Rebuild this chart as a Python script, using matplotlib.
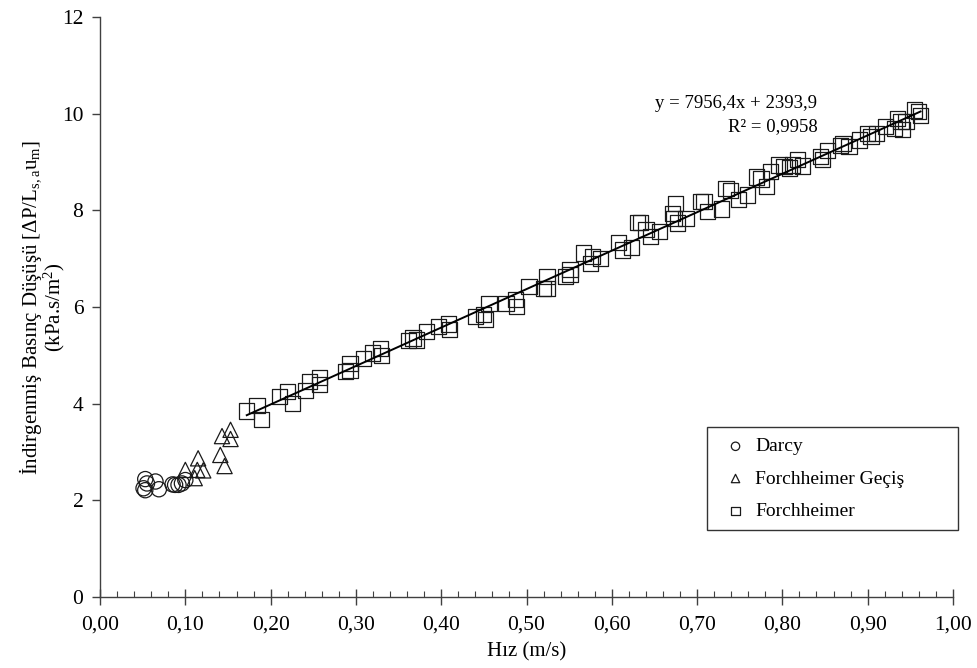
import numpy as np
import matplotlib.pyplot as plt
from matplotlib.ticker import MultipleLocator, FuncFormatter

plt.rcParams['font.family'] = ['Liberation Serif', 'DejaVu Serif']
plt.rcParams['mathtext.fontset'] = 'custom'
plt.rcParams['mathtext.rm'] = 'Liberation Serif'
plt.rcParams['mathtext.it'] = 'Liberation Serif:italic'

# Darcy region
darcy_x = [0.053, 0.055, 0.065, 0.051, 0.053, 0.069, 0.085, 0.088, 0.092, 0.096, 0.100]
darcy_y = [2.44, 2.35, 2.39, 2.25, 2.21, 2.23, 2.33, 2.32, 2.32, 2.35, 2.42]

# Forchheimer transition
gecis_x = [0.100, 0.115, 0.114, 0.121, 0.111, 0.141, 0.146, 0.143, 0.153, 0.153]
gecis_y = [2.63, 2.87, 2.63, 2.62, 2.46, 2.94, 2.71, 3.33, 3.46, 3.27]

# Forchheimer region
forch_x = [0.172, 0.184, 0.189, 0.210, 0.220, 0.226, 0.241, 0.246, 0.257, 0.257,
           0.288, 0.293, 0.293, 0.309, 0.319, 0.329, 0.330, 0.362, 0.367, 0.371,
           0.383, 0.397, 0.409, 0.410, 0.440, 0.450, 0.452, 0.456, 0.476, 0.487,
           0.488, 0.503, 0.520, 0.524, 0.524, 0.546, 0.551, 0.551, 0.567, 0.575,
           0.577, 0.587, 0.608, 0.613, 0.623, 0.630, 0.634, 0.640, 0.645, 0.656,
           0.671, 0.675, 0.673, 0.677, 0.687, 0.704, 0.708, 0.712, 0.729, 0.734,
           0.739, 0.749, 0.759, 0.770, 0.775, 0.781, 0.786, 0.796, 0.802, 0.808,
           0.812, 0.818, 0.824, 0.845, 0.847, 0.853, 0.868, 0.871, 0.878, 0.890,
           0.900, 0.904, 0.910, 0.921, 0.931, 0.935, 0.939, 0.941, 0.945, 0.955,
           0.960, 0.962]
forch_y = [3.85, 3.97, 3.68, 4.15, 4.25, 4.01, 4.27, 4.46, 4.55, 4.39,
           4.66, 4.84, 4.69, 4.93, 5.05, 5.15, 5.00, 5.31, 5.36, 5.32,
           5.49, 5.60, 5.65, 5.54, 5.80, 5.84, 5.75, 6.07, 6.08, 6.15,
           6.02, 6.42, 6.39, 6.63, 6.39, 6.63, 6.77, 6.67, 7.12, 6.91,
           7.05, 7.01, 7.34, 7.18, 7.23, 7.75, 7.75, 7.60, 7.46, 7.56,
           7.94, 8.15, 7.84, 7.74, 7.84, 8.18, 8.18, 7.98, 8.03, 8.46,
           8.41, 8.22, 8.32, 8.69, 8.65, 8.50, 8.81, 8.94, 8.91, 8.88,
           8.94, 9.05, 8.92, 9.12, 9.05, 9.24, 9.34, 9.39, 9.32, 9.46,
           9.60, 9.53, 9.60, 9.74, 9.70, 9.91, 9.84, 9.67, 9.84, 10.08,
           10.05, 9.96]

# trendline from the chart (Pa -> kPa)
slope = 7956.4 / 1000
intercept = 2393.9 / 1000

fig = plt.figure(figsize=(9.77, 6.68), dpi=100)
ax = fig.add_axes([0.1024, 0.1063, 0.873, 0.868])

ec = '#1a1a1a'
ax.scatter(darcy_x, darcy_y, s=120, marker='o', facecolors='none', edgecolors=ec,
           linewidths=0.9, label='Darcy', zorder=3)
ax.scatter(gecis_x, gecis_y, s=120, marker='^', facecolors='none', edgecolors=ec,
           linewidths=0.9, label='Forchheimer Geçiş', zorder=3)
ax.scatter(forch_x, forch_y, s=120, marker='s', facecolors='none', edgecolors=ec,
           linewidths=0.9, label='Forchheimer', zorder=3)

xf = np.array([min(forch_x), max(forch_x)])
ax.plot(xf, slope * xf + intercept, color='black', lw=1.4, zorder=4)

ax.text(0.746, 9.98, 'y = 7956,4x + 2393,9\nR² = 0,9958', ha='center', va='center',
        multialignment='right', fontsize=13.5, linespacing=1.5)

ax.set_xlim(0, 1.0)
ax.set_ylim(0, 12)
ax.xaxis.set_major_locator(MultipleLocator(0.1))
ax.xaxis.set_minor_locator(MultipleLocator(0.02))
ax.yaxis.set_major_locator(MultipleLocator(2))
ax.xaxis.set_major_formatter(FuncFormatter(lambda v, p: f'{v:.2f}'.replace('.', ',')))
ax.yaxis.set_major_formatter(FuncFormatter(lambda v, p: f'{v:.0f}'))

for s in ['top', 'right']:
    ax.spines[s].set_visible(False)
for s in ['left', 'bottom']:
    ax.spines[s].set_color('#404040')
    ax.spines[s].set_linewidth(1.0)

ax.tick_params(axis='x', which='major', direction='inout', length=12, width=1.0,
               labelsize=15.5, colors='#404040', labelcolor='black', pad=7)
ax.tick_params(axis='x', which='minor', direction='in', length=4, width=0.8, colors='#404040')
ax.tick_params(axis='y', which='major', direction='out', length=6, width=1.0,
               labelsize=15.5, colors='#404040', labelcolor='black', pad=6)

ax.set_xlabel('Hız (m/s)', fontsize=15, labelpad=6)
ax.set_ylabel('İndirgenmiş Basınç Düşüşü [ΔP/L$_{\\mathrm{s,a}}$u$_{\\mathrm{m}}$]\n(kPa.s/m$^{\\mathrm{2}}$)',
              fontsize=15, labelpad=-4, linespacing=0.92)

leg = ax.legend(loc='upper left', bbox_to_anchor=(0.712, 0.112, 0.294, 0.181), mode='expand',
                fontsize=14, frameon=True, fancybox=False, edgecolor='black', markerscale=0.55,
                handlelength=1.8, handletextpad=0.1, borderpad=0.55, labelspacing=0.75,
                borderaxespad=0)
leg.get_frame().set_linewidth(1.0)

fig.savefig('out.png', dpi=100)
